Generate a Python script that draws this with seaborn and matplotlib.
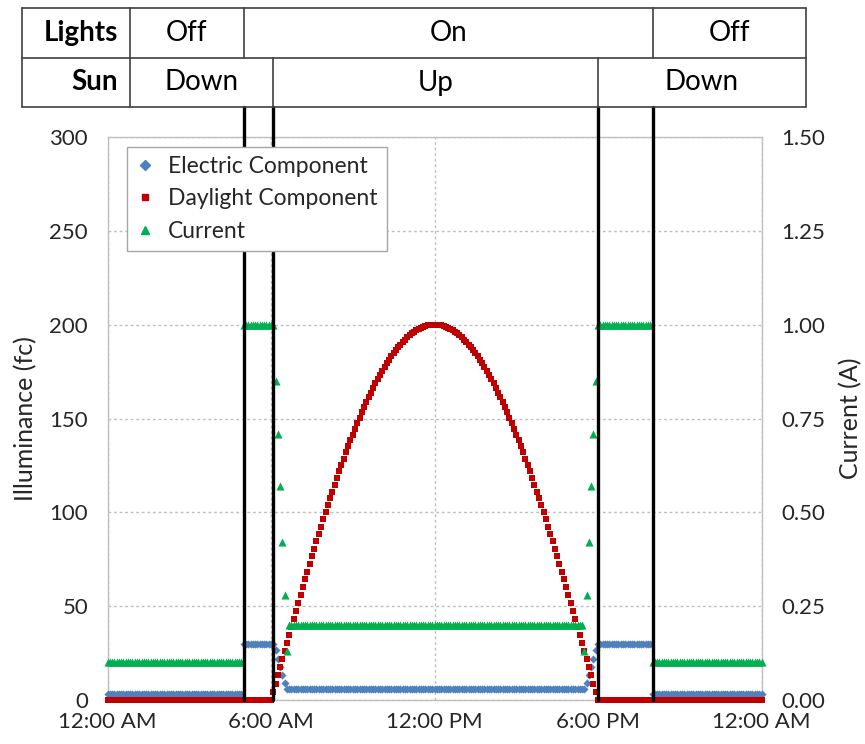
import numpy as np
import pandas as pd
import seaborn as sns
import matplotlib.pyplot as plt
from matplotlib import transforms
from matplotlib.lines import Line2D

# --- data: one day sampled every 5 minutes (0:00 ... 24:00) ---
STEP_MIN = 5
N_POINTS = 289

current_a = ([0.10] * 60 + [1.00] * 14
             + [0.85, 0.71, 0.57, 0.42, 0.28, 0.13]
             + [0.20] * 130
             + [0.13, 0.28, 0.42, 0.57, 0.71, 0.85]
             + [1.00] * 24 + [0.10] * 49)

electric_fc = ([3.0] * 60 + [30.0] * 14
               + [26.6, 22.0, 17.8, 13.3, 9.3]
               + [6.0] * 132
               + [9.3, 13.3, 17.8, 22.0, 26.6]
               + [30.0] * 24 + [3.0] * 49)

# daylight between sunrise and sunset (6:05 ... 17:55)
daylight_day = [
    4.4, 8.7, 13.1, 17.4, 21.8, 26.1, 30.4, 34.7, 39.0, 43.3,
    47.5, 51.8, 56.0, 60.1, 64.3, 68.4, 72.5, 76.5, 80.6, 84.5,
    88.5, 92.4, 96.2, 100.0, 103.7, 107.5, 111.1, 114.7, 118.3, 121.8,
    125.2, 128.6, 131.9, 135.1, 138.3, 141.4, 144.5, 147.5, 150.4, 153.2,
    156.0, 158.7, 161.3, 163.8, 166.3, 168.7, 171.0, 173.2, 175.3, 177.4,
    179.4, 181.3, 183.1, 184.8, 186.4, 187.9, 189.4, 190.7, 192.0, 193.2,
    194.3, 195.3, 196.2, 197.0, 197.7, 198.3, 198.8, 199.2, 199.6, 199.8,
    200.0, 200.0, 200.0,
    199.8, 199.6, 199.2, 198.8, 198.3, 197.7, 197.0, 196.2, 195.3, 194.3,
    193.2, 192.0, 190.7, 189.4, 187.9, 186.4, 184.8, 183.1, 181.3, 179.4,
    177.4, 175.3, 173.2, 171.0, 168.7, 166.3, 163.8, 161.3, 158.7, 156.0,
    153.2, 150.4, 147.5, 144.5, 141.4, 138.3, 135.1, 131.9, 128.6, 125.2,
    121.8, 118.3, 114.7, 111.1, 107.5, 103.7, 100.0, 96.2, 92.4, 88.5,
    84.5, 80.6, 76.5, 72.5, 68.4, 64.3, 60.1, 56.0, 51.8, 47.5,
    43.3, 39.0, 34.7, 30.4, 26.1, 21.8, 17.4, 13.1, 8.7, 4.4,
]
daylight_fc = [0.0] * 73 + daylight_day + [0.0] * 73

# lights on 5:00, sunrise ~6:04, sunset 18:00, lights off 20:00
event_hours = [5.0, 6.07, 18.0, 20.0]

x_ticks = [0, 6, 12, 18, 24]
x_tick_labels = ['12:00 AM', '6:00 AM', '12:00 PM', '6:00 PM', '12:00 AM']

lights_states = ['Off', 'On', 'Off']
sun_states = ['Down', 'Up', 'Down']

# --- colours ---
BLUE = '#4F81BD'
RED = '#C00000'
GREEN = '#00B050'
GRID = '#BFBFBF'
TEXT = '#262626'

sns.set_theme(style='white')
plt.rcParams['font.family'] = ['Lato', 'DejaVu Sans']

df = pd.DataFrame({
    'hour': np.arange(N_POINTS) * STEP_MIN / 60,
    'electric': electric_fc,
    'daylight': daylight_fc,
    'current': current_a,
})

W, H = 865, 744
fig = plt.figure(figsize=(W / 100, H / 100), dpi=100)
ax = fig.add_axes([107.5 / W, 1 - 700 / H, 654 / W, 563 / H])
ax2 = ax.twinx()

sns.scatterplot(data=df, x='hour', y='electric', ax=ax, marker='D', s=17,
                color=BLUE, linewidth=0, clip_on=False, zorder=3)
sns.scatterplot(data=df, x='hour', y='daylight', ax=ax, marker='s', s=21,
                color=RED, linewidth=0, clip_on=False, zorder=4)
sns.scatterplot(data=df, x='hour', y='current', ax=ax2, marker='^', s=34,
                color=GREEN, linewidth=0, clip_on=False, zorder=3)

ax.set_xlim(0, 24)
ax.set_ylim(0, 300)
ax2.set_ylim(0, 1.5)
ax.set_xticks(x_ticks)
ax.set_xticklabels(x_tick_labels)
ax.set_yticks(range(0, 301, 50))
ax2.set_yticks(np.arange(0, 1.51, 0.25))
ax2.set_yticklabels([f'{v:.2f}' for v in np.arange(0, 1.51, 0.25)])

ax.grid(True, color=GRID, linestyle=(0, (2, 2)), linewidth=1)
ax.set_axisbelow(True)
for sp in ax.spines.values():
    sp.set_color(GRID)
    sp.set_linewidth(1)
for sp in ax2.spines.values():
    sp.set_visible(False)
for a in (ax, ax2):
    a.tick_params(length=0, labelsize=16, colors=TEXT)
ax.tick_params(axis='y', pad=14)
ax.tick_params(axis='x', pad=9)
ax2.tick_params(axis='y', pad=14)

ax.set_xlabel('')
ax.set_ylabel('Illuminance (fc)', fontsize=18, color=TEXT, labelpad=9)
ax2.set_ylabel('Current (A)', fontsize=18, color=TEXT, labelpad=10)

# black event lines reaching up to the table
for h in event_hours:
    ax2.axvline(h, ymin=0, ymax=(700 - 107) / 563, color='black', lw=2.4,
                clip_on=False, zorder=6)

handles = [
    Line2D([], [], marker='D', color=BLUE, linestyle='none', markersize=5),
    Line2D([], [], marker='s', color=RED, linestyle='none', markersize=5),
    Line2D([], [], marker='^', color=GREEN, linestyle='none', markersize=6),
]
leg = ax2.legend(handles, ['Electric Component', 'Daylight Component', 'Current'],
                 loc='upper left', bbox_to_anchor=(0.03, 0.983), fontsize=16.5,
                 frameon=True, fancybox=False, framealpha=1, edgecolor='#A6A6A6',
                 handlelength=0.8, handletextpad=0.6, borderpad=0.4,
                 labelspacing=0.5, borderaxespad=0)
leg.set_zorder(10)
for t in leg.get_texts():
    t.set_color(TEXT)

# --- status table above the plot ---
blend = transforms.blended_transform_factory(ax.transData, fig.transFigure)
TBL_L, TBL_HDR, TBL_R = -3.14, 0.83, 25.63
y_top, y_mid, y_bot = [1 - p / H for p in (8, 58, 107)]
line_kw = dict(color='#404040', lw=1.2, transform=blend, clip_on=False)

for y in (y_top, y_mid, y_bot):
    fig.add_artist(Line2D([TBL_L, TBL_R], [y, y], **line_kw))
for x in (TBL_L, TBL_HDR, TBL_R):
    fig.add_artist(Line2D([x, x], [y_bot, y_top], **line_kw))

lights_edges = [TBL_HDR, event_hours[0], event_hours[3], TBL_R]
sun_edges = [TBL_HDR, event_hours[1], event_hours[2], TBL_R]
for edges, states, y0, y1 in ((lights_edges, lights_states, y_mid, y_top),
                              (sun_edges, sun_states, y_bot, y_mid)):
    for x in edges[1:-1]:
        fig.add_artist(Line2D([x, x], [y0, y1], **line_kw))
    for i, s in enumerate(states):
        fig.text((edges[i] + edges[i + 1]) / 2, (y0 + y1) / 2, s,
                 transform=blend, ha='center', va='center', fontsize=20, color='black')

fig.text(TBL_HDR - 0.45, (y_mid + y_top) / 2, 'Lights', transform=blend,
         ha='right', va='center', fontsize=20, fontweight='bold', color='black')
fig.text(TBL_HDR - 0.45, (y_bot + y_mid) / 2, 'Sun', transform=blend,
         ha='right', va='center', fontsize=20, fontweight='bold', color='black')

fig.savefig('out.png', dpi=100)
